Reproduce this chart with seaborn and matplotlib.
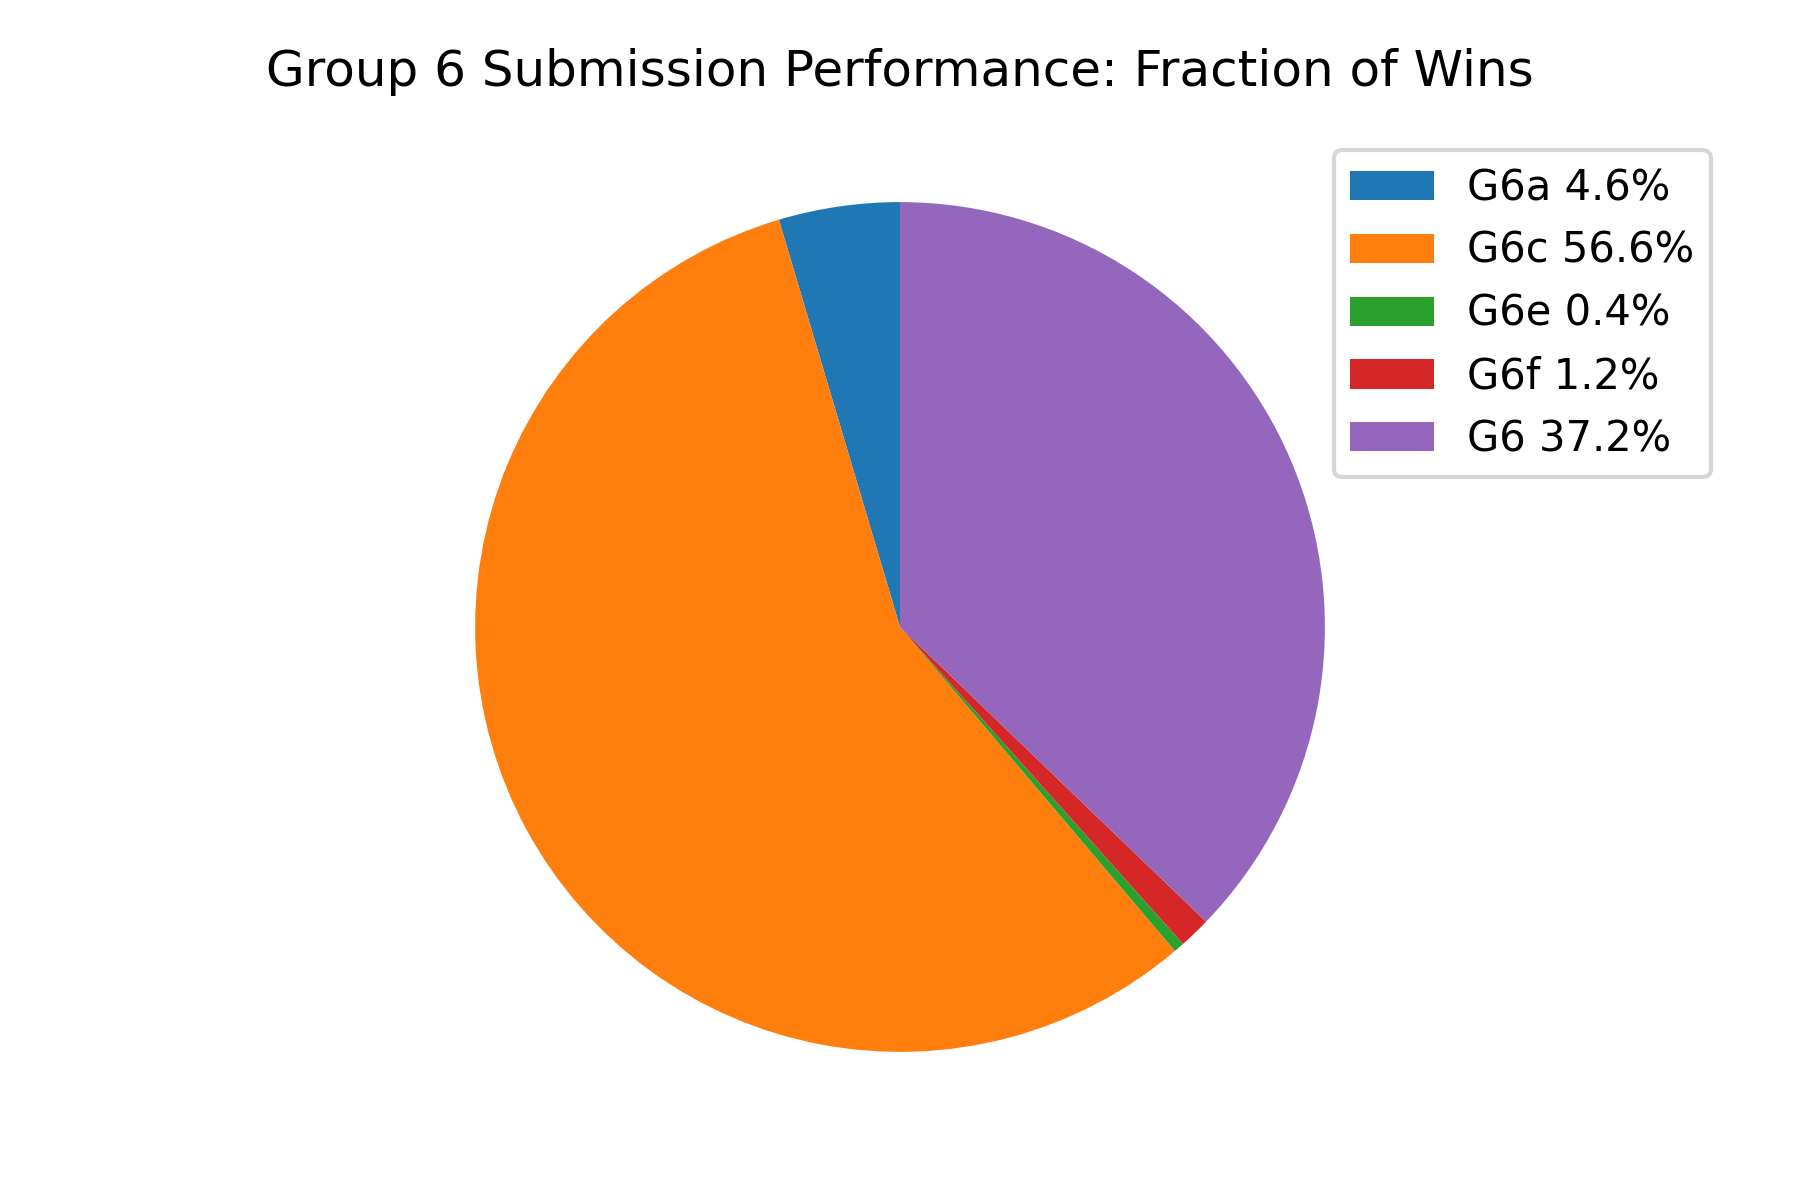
import matplotlib
matplotlib.use("Agg")
import matplotlib.pyplot as plt
import seaborn as sns

labels = ["G6a", "G6c", "G6e", "G6f", "G6"]
shares = [4.6, 56.6, 0.4, 1.2, 37.2]

sns.set_style("white")
plt.rcParams['font.family'] = ['DejaVu Sans']
plt.rcParams['text.color'] = 'black'
colors = sns.color_palette("tab10", len(labels))

fig = plt.figure(figsize=(6, 4), dpi=300)
ax = fig.add_axes([0.05, 0.088, 0.9, 0.779])
wedges, _ = ax.pie(shares, colors=colors, startangle=90, counterclock=True,
                   wedgeprops={"linewidth": 0})
ax.axis('equal')
fig.legend(wedges, [f"{l} {s}%" for l, s in zip(labels, shares)], loc="upper right",
           bbox_to_anchor=(0.962, 0.892))
fig.text(0.5, 0.94, "Group 6 Submission Performance: Fraction of Wins",
         ha="center", va="center", fontsize=12)
fig.savefig("out.png", dpi=300)
